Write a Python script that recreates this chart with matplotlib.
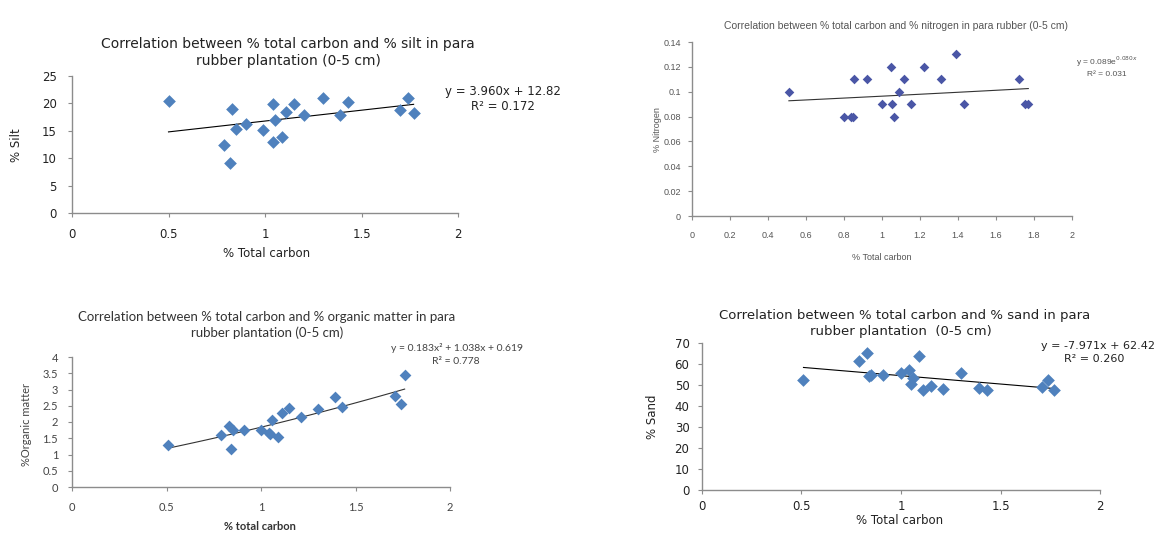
import numpy as np
import matplotlib
matplotlib.use("Agg")
import matplotlib.pyplot as plt

W, H = 1167, 533

# ---------------- data ----------------
silt_c = [0.50, 0.79, 0.82, 0.83, 0.85, 0.90, 0.99, 1.04, 1.04, 1.05,
          1.09, 1.11, 1.15, 1.20, 1.30, 1.39, 1.43, 1.70, 1.74, 1.77]
silt_v = [20.4, 12.4, 9.1, 18.9, 15.4, 16.2, 15.2, 12.9, 19.9, 16.9,
          13.9, 18.4, 19.9, 17.8, 20.9, 17.8, 20.2, 18.8, 20.9, 18.3]
silt_fit = (3.960, 12.82)

nit_c = [0.51, 0.80, 0.835, 0.845, 0.855, 0.92, 1.00, 1.045, 1.05, 1.065,
         1.09, 1.115, 1.15, 1.22, 1.31, 1.39, 1.43, 1.72, 1.75, 1.77]
nit_v = [0.10, 0.08, 0.08, 0.08, 0.11, 0.11, 0.09, 0.12, 0.09, 0.08,
         0.10, 0.11, 0.09, 0.12, 0.11, 0.13, 0.09, 0.11, 0.09, 0.09]
nit_fit = (0.089, 0.080)

om_c = [0.51, 0.79, 0.83, 0.84, 0.85, 0.91, 1.00, 1.04, 1.05, 1.06,
        1.09, 1.11, 1.15, 1.21, 1.30, 1.39, 1.43, 1.71, 1.74, 1.76]
om_v = [1.30, 1.61, 1.87, 1.18, 1.76, 1.74, 1.76, 1.66, 1.63, 2.07,
        1.54, 2.28, 2.43, 2.15, 2.41, 2.77, 2.46, 2.79, 2.55, 3.45]
om_fit = (0.183, 1.038, 0.619)

sand_c = [0.51, 0.79, 0.83, 0.84, 0.85, 0.91, 1.00, 1.04, 1.05, 1.06,
          1.09, 1.11, 1.15, 1.21, 1.30, 1.39, 1.43, 1.71, 1.74, 1.77]
sand_v = [52.5, 61.6, 65.2, 54.1, 54.9, 54.6, 55.7, 57.3, 50.4, 53.3,
          63.6, 47.4, 49.6, 48.0, 55.7, 48.8, 47.4, 49.0, 52.5, 47.4]
sand_fit = (-7.971, 62.42)

x_ticks_a = [0, 0.5, 1, 1.5, 2]
x_ticks_b = [0, 0.2, 0.4, 0.6, 0.8, 1, 1.2, 1.4, 1.6, 1.8, 2]
silt_ticks = [0, 5, 10, 15, 20, 25]
nit_ticks = [0, 0.02, 0.04, 0.06, 0.08, 0.1, 0.12, 0.14]
om_ticks = [0, 0.5, 1, 1.5, 2, 2.5, 3, 3.5, 4]
sand_ticks = [0, 10, 20, 30, 40, 50, 60, 70]

BLUE = "#4F81BD"
NAVY = "#4A56A6"
SPINE = "#8C8C8C"

fig = plt.figure(figsize=(W / 100, H / 100), dpi=100)
fig.patch.set_facecolor("white")


def box(x0, x1, ytop, ybot):
    return [x0 / W, 1 - ybot / H, (x1 - x0) / W, (ybot - ytop) / H]


def ftext(x, y, s, **kw):
    fig.text(x / W, 1 - y / H, s, ha=kw.pop("ha", "center"),
             va=kw.pop("va", "center"), **kw)


def style(ax, xt, yt, xlab, ylab, family, size, color, xpad, ypad, ylim, xlim=(0, 2)):
    ax.set_xlim(*xlim)
    ax.set_ylim(*ylim)
    ax.set_xticks(xt)
    ax.set_yticks(yt)
    ax.set_xticklabels(xlab)
    ax.set_yticklabels(ylab)
    for s in ("top", "right"):
        ax.spines[s].set_visible(False)
    for s in ("left", "bottom"):
        ax.spines[s].set_color(SPINE)
        ax.spines[s].set_linewidth(1.0)
    ax.tick_params(axis="x", direction="out", length=3, color=SPINE, pad=xpad,
                   labelsize=size, labelcolor=color)
    ax.tick_params(axis="y", direction="out", length=3, color=SPINE, pad=ypad,
                   labelsize=size, labelcolor=color)
    for lab in ax.get_xticklabels() + ax.get_yticklabels():
        lab.set_family(family)
    ax.patch.set_alpha(0)


def fmt(v):
    return ("%g" % v)


# ---------------- Panel 1: silt ----------------
ax1 = fig.add_axes(box(72, 458, 76, 213))
ax1.scatter(silt_c, silt_v, marker="D", s=42, color=BLUE, zorder=3, linewidths=0)
xs = np.linspace(min(silt_c), max(silt_c), 50)
ax1.plot(xs, silt_fit[0] * xs + silt_fit[1], color="black", lw=0.8, zorder=2)
style(ax1, x_ticks_a, silt_ticks, [fmt(v) for v in x_ticks_a], [fmt(v) for v in silt_ticks],
      ["DejaVu Sans"], 8.5, "#222222", 8, 8, (0, 25))
ftext(288, 44, "Correlation between % total carbon and % silt in para", family="DejaVu Sans", fontsize=10, color="#222222")
ftext(288, 61, "rubber plantation (0-5 cm)", family="DejaVu Sans", fontsize=10, color="#222222")
ftext(503, 92, "y = 3.960x + 12.82", family="DejaVu Sans", fontsize=8.5, color="#222222")
ftext(503, 106, "R² = 0.172", family="DejaVu Sans", fontsize=8.5, color="#222222")
ftext(267, 253, "% Total carbon", family="DejaVu Sans", fontsize=8.5, color="#222222")
ftext(17, 145, "% Silt", family="DejaVu Sans", fontsize=8.5, color="#222222", rotation=90)

# ---------------- Panel 2: nitrogen ----------------
ax2 = fig.add_axes(box(692, 1072, 42, 216))
ax2.scatter(nit_c, nit_v, marker="D", s=24, color=NAVY, zorder=3, linewidths=0)
xs = np.linspace(min(nit_c), max(nit_c), 50)
ax2.plot(xs, nit_fit[0] * np.exp(nit_fit[1] * xs), color="#333333", lw=0.8, zorder=2)
narrow = ["Liberation Sans Narrow", "Liberation Sans"]
style(ax2, x_ticks_b, nit_ticks, [fmt(v) for v in x_ticks_b], [fmt(v) for v in nit_ticks],
      narrow, 6.5, "#555555", 8, 5, (0, 0.14))
ftext(896, 26, "Correlation between % total carbon and % nitrogen in para rubber (0-5 cm)",
      family=narrow, fontsize=7.5, color="#555555")
ftext(1107, 62, "y = 0.089e$^{0.080x}$", family=narrow, fontsize=6, color="#555555")
ftext(1107, 75, "R² = 0.031", family=narrow, fontsize=6, color="#555555")
ftext(882, 258, "% Total carbon", family=narrow, fontsize=6.5, color="#555555")
ftext(657, 130, "% Nitrogen", family=narrow, fontsize=6.5, color="#555555", rotation=90)

# ---------------- Panel 3: organic matter ----------------
ax3 = fig.add_axes(box(72, 450, 357, 487))
ax3.scatter(om_c, om_v, marker="D", s=36, color=BLUE, zorder=3, linewidths=0)
xs = np.linspace(min(om_c), max(om_c), 50)
ax3.plot(xs, om_fit[0] * xs ** 2 + om_fit[1] * xs + om_fit[2], color="#333333", lw=0.8, zorder=2)
lato = ["Lato", "DejaVu Sans"]
style(ax3, x_ticks_a, om_ticks, [fmt(v) for v in x_ticks_a], [fmt(v) for v in om_ticks],
      lato, 8, "#444444", 8, 7, (0, 4))
ftext(267, 317, "Correlation between % total carbon and % organic matter in para", family=lato, fontsize=9.5, color="#333333")
ftext(267, 333, "rubber plantation (0-5 cm)", family=lato, fontsize=9.5, color="#333333")
ftext(457, 348, "y = 0.183x² + 1.038x + 0.619", family=lato, fontsize=7.5, color="#444444")
ftext(456, 362, "R² = 0.778", family=lato, fontsize=7.5, color="#444444")
ftext(260, 527, "% total carbon", family=lato, fontsize=8, color="#333333", fontweight="bold")
ftext(27, 425, "%Organic matter", family=lato, fontsize=8, color="#444444", rotation=90)

# ---------------- Panel 4: sand ----------------
ax4 = fig.add_axes(box(702, 1100, 343, 490))
ax4.scatter(sand_c, sand_v, marker="D", s=42, color=BLUE, zorder=3, linewidths=0)
xs = np.linspace(min(sand_c), max(sand_c), 50)
ax4.plot(xs, sand_fit[0] * xs + sand_fit[1], color="black", lw=0.8, zorder=2)
style(ax4, x_ticks_a, sand_ticks, [fmt(v) for v in x_ticks_a], [fmt(v) for v in sand_ticks],
      ["DejaVu Sans"], 8.5, "#222222", 4, 6, (0, 70))
ftext(905, 316, "Correlation between % total carbon and % sand in para", family="DejaVu Sans", fontsize=9.5, color="#222222")
ftext(901, 332, "rubber plantation  (0-5 cm)", family="DejaVu Sans", fontsize=9.5, color="#222222")
ftext(1098, 346, "y = -7.971x + 62.42", family="DejaVu Sans", fontsize=8, color="#222222")
ftext(1094, 359, "R² = 0.260", family="DejaVu Sans", fontsize=8, color="#222222")
ftext(900, 520, "% Total carbon", family="DejaVu Sans", fontsize=8.5, color="#222222")
ftext(652, 417, "% Sand", family="DejaVu Sans", fontsize=8.5, color="#222222", rotation=90)

fig.savefig("out.png", dpi=100, facecolor="white")
